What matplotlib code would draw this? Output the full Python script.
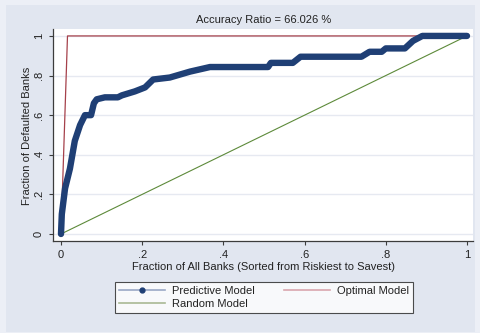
import matplotlib
matplotlib.use("Agg")
import matplotlib.pyplot as plt
from matplotlib.lines import Line2D
from matplotlib.patches import Rectangle

plt.rcParams['font.family'] = ['Liberation Sans', 'DejaVu Sans']

# CAP curve (fraction of all banks, fraction of defaulted banks)
pred_x = [0.0, 0.002, 0.010, 0.022, 0.034, 0.047, 0.059, 0.074, 0.081, 0.088, 0.108,
          0.140, 0.150, 0.182, 0.207, 0.227, 0.268, 0.318, 0.367, 0.510, 0.517,
          0.571, 0.590, 0.740, 0.760, 0.790, 0.800, 0.847, 0.867, 0.890, 1.0]
pred_y = [0.0, 0.10, 0.23, 0.33, 0.47, 0.55, 0.60, 0.60, 0.66, 0.68, 0.69,
          0.69, 0.70, 0.72, 0.74, 0.78, 0.79, 0.82, 0.843, 0.843, 0.864,
          0.864, 0.895, 0.895, 0.92, 0.92, 0.937, 0.937, 0.975, 1.0, 1.0]
opt_x = [0.0, 0.016, 1.0]
opt_y = [0.0, 1.0, 1.0]
rand_x = [0.0, 1.0]
rand_y = [0.0, 1.0]

ticks = [0, 0.2, 0.4, 0.6, 0.8, 1]
tick_labels = ["0", ".2", ".4", ".6", ".8", "1"]
accuracy_ratio = 66.026

navy = "#1f3f75"
maroon = "#a5404a"
green = "#5d8a3a"

fig = plt.figure(figsize=(4.8, 3.33), dpi=100, facecolor="#eceff6")
fig.patches.append(Rectangle((6 / 480, 1 / 333), 469 / 480, 327 / 333,
                             transform=fig.transFigure, facecolor="#e1e6f0",
                             edgecolor="none", zorder=-5))

ax = fig.add_axes([53 / 480, 1 - 241 / 333, 420 / 480, 212 / 333], zorder=2)
ax.set_facecolor("white")

ax.plot(rand_x, rand_y, color=green, lw=0.8, zorder=2)
ax.plot(opt_x, opt_y, color=maroon, lw=0.9, zorder=2)
ax.plot(pred_x, pred_y, color=navy, lw=4.6, solid_capstyle="round",
        solid_joinstyle="round", zorder=3)

ax.set_xlim(-0.0197, 1.0148)
ax.set_ylim(-0.0354, 1.035)
ax.set_xticks(ticks)
ax.set_xticklabels(tick_labels)
ax.set_yticks(ticks)
ax.set_yticklabels(tick_labels, rotation=90, va="center")
ax.grid(axis="y", color="#e6e9f1", lw=1.0, zorder=1)
ax.set_axisbelow(True)

for side in ["top", "right"]:
    ax.spines[side].set_visible(False)
for side in ["left", "bottom"]:
    ax.spines[side].set_color("#3c3c3c")
    ax.spines[side].set_linewidth(0.9)
ax.tick_params(direction="out", length=3, width=0.8, color="#3c3c3c",
               labelsize=8, labelcolor="#222222", pad=3.5)

fig.text(264 / 480, 1 - 20 / 333, f"Accuracy Ratio = {accuracy_ratio:.3f} %",
         ha="center", va="center", fontsize=8, color="#222222")
fig.text(264 / 480, 1 - 267 / 333,
         "Fraction of All Banks (Sorted from Riskiest to Savest)",
         ha="center", va="center", fontsize=8, color="#222222")
fig.text(27 / 480, 1 - 136 / 333, "Fraction of Defaulted Banks",
         ha="center", va="center", rotation=90, fontsize=8, color="#222222")

handles = [
    Line2D([], [], color="#9aa8c6", lw=1.2, marker="o", markersize=3.5,
           markerfacecolor=navy, markeredgecolor=navy),
    Line2D([], [], color="#a9b994", lw=1.2),
    Line2D([], [], color="#d9a6ad", lw=1.2),
]
labels = ["Predictive Model", "Random Model", "Optimal Model"]
leg = fig.legend(handles, labels, loc="center", bbox_to_anchor=(264 / 480, 1 - 297.5 / 333),
                 ncol=2, fontsize=8, frameon=True, fancybox=False,
                 handlelength=4.1, handletextpad=0.6, columnspacing=2.7,
                 labelspacing=0.25, borderpad=0.4)
leg.get_frame().set_edgecolor("#222222")
leg.get_frame().set_linewidth(0.8)
leg.get_frame().set_facecolor("white")
for t in leg.get_texts():
    t.set_color("#222222")

fig.savefig("out.png", dpi=100, facecolor=fig.get_facecolor())
